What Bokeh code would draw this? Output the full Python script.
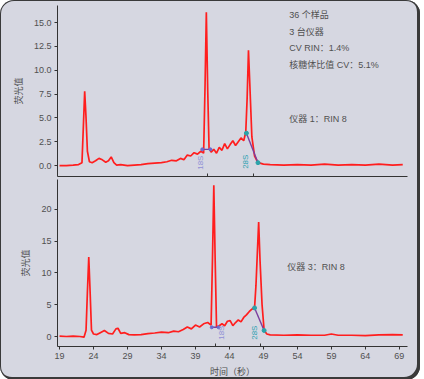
import math
from bokeh.plotting import figure
from bokeh.layouts import column
from bokeh.models import Range1d, FixedTicker, PrintfTickFormatter, Label
from bokeh.embed import file_html
from bokeh.resources import INLINE

# ---------------- data ----------------
# Instrument 1 electropherogram (time s, fluorescence)
t1 = [19.0, 20.0, 21.0, 21.8, 22.3, 22.5, 22.7, 22.9, 23.1, 23.4, 23.8, 24.3, 24.8, 25.3,
      25.8, 26.2, 26.6, 27.0, 27.4, 28.0, 29.0, 30.0, 31.0, 32.0, 33.0, 34.0, 34.8, 35.5,
      36.2, 36.8, 37.3, 37.8, 38.3, 38.8, 39.3, 39.8, 40.2, 40.4, 40.6, 40.8, 41.0, 41.3,
      41.7, 42.1, 42.5, 42.9, 43.3, 43.7, 44.1, 44.5, 44.9, 45.3, 45.7, 46.1, 46.4, 46.6,
      46.8, 47.0, 47.3, 47.7, 48.1, 48.5, 49.0, 50.0, 52.0, 54.0, 56.0, 58.0, 59.0, 60.0,
      62.0, 64.0, 66.0, 68.0, 69.5]
f1 = [0.0, 0.0, 0.05, 0.1, 0.3, 4.0, 7.8, 5.0, 1.5, 0.4, 0.3, 0.5, 0.75, 0.6,
      0.35, 0.5, 0.9, 0.3, 0.05, 0.1, 0.0, 0.05, 0.1, 0.2, 0.25, 0.3, 0.4, 0.55,
      0.5, 0.75, 0.6, 1.1, 1.0, 1.35, 1.2, 1.5, 1.3, 8.0, 16.1, 8.0, 1.8, 1.4,
      1.7, 1.3, 1.9, 1.6, 2.3, 1.75, 2.2, 2.6, 2.1, 2.5, 2.9, 2.6, 3.5, 7.0,
      12.1, 8.5, 3.0, 1.0, 0.45, 0.25, 0.15, 0.1, 0.05, 0.1, 0.05, 0.15, 0.1, 0.05,
      0.1, 0.05, 0.15, 0.05, 0.1]

# Instrument 3 electropherogram
t3 = [19.0, 20.0, 21.0, 22.0, 22.6, 22.9, 23.1, 23.3, 23.5, 23.7, 24.0, 24.5, 25.0, 25.6,
      26.2, 26.8, 27.3, 27.6, 28.0, 28.6, 29.2, 30.0, 31.0, 32.0, 33.0, 34.0, 35.0, 35.8,
      36.5, 37.2, 37.8, 38.4, 39.0, 39.6, 40.2, 40.8, 41.3, 41.5, 41.7, 41.9, 42.1, 42.5,
      42.9, 43.3, 43.7, 44.1, 44.5, 44.9, 45.3, 45.7, 46.1, 46.5, 46.9, 47.3, 47.7, 47.9,
      48.1, 48.3, 48.5, 48.8, 49.1, 49.5, 50.0, 52.0, 54.0, 56.0, 58.0, 59.0, 60.0, 62.0,
      64.0, 66.0, 68.0, 69.5]
f3 = [0.05, 0.0, 0.05, 0.0, -0.1, 1.0, 7.0, 12.5, 7.0, 1.0, 0.4, 0.3, 0.6, 0.95,
      0.5, 0.4, 1.2, 1.3, 0.5, 0.6, 0.3, 0.25, 0.3, 0.45, 0.55, 0.7, 0.6, 0.85,
      0.75, 1.1, 1.5, 1.2, 1.8, 1.5, 2.0, 2.2, 1.8, 12.0, 23.8, 12.0, 1.5, 1.7,
      2.0, 1.7, 2.4, 2.5, 1.7, 2.2, 2.6, 2.3, 3.0, 3.4, 3.9, 4.3, 4.6, 8.0,
      13.0, 18.0, 12.0, 5.0, 1.0, 0.4, 0.25, 0.2, 0.25, 0.2, 0.2, 0.4, 0.2, 0.2,
      0.15, 0.25, 0.3, 0.25]

# peak baselines (18S, 28S)
b1_18_t = [40.0, 41.2]
b1_18_f = [1.7, 1.7]
b1_28_t = [46.5, 48.2]
b1_28_f = [3.4, 0.3]
b3_18_t = [41.4, 42.4]
b3_18_f = [1.45, 1.45]
b3_28_t = [47.7, 49.1]
b3_28_f = [4.5, 0.95]

# ribosomal peak marks on x axis
marks1 = [40.8, 47.5]
marks3 = [41.9, 48.5]

x_ticks = [19, 24, 29, 34, 39, 44, 49, 54, 59, 64, 69]
y_ticks1 = [0.0, 2.5, 5.0, 7.5, 10.0, 12.5, 15.0]
y_ticks3 = [0, 5, 10, 15, 20]

notes1 = ["36 个样品", "3 台仪器", "CV RIN：1.4%", "核糖体比值 CV：5.1%"]
inst1 = "仪器 1：RIN 8"
inst3 = "仪器 3：RIN 8"
ylab = "荧光值"
xlab = "时间（秒）"

# ---------------- style ----------------
BG = "#d6d7e1"
RED = "#ff1e1e"
PURPLE = "#7b3f9e"
TEAL = "#2aa3aa"
TXT = "#505050"
FONT = "Liberation Sans, Noto Sans CJK SC"
CJK = "Noto Sans CJK SC"

x_range = Range1d(18.7, 70.2)


def make_fig(frame_h, yr, top_b, bottom_b):
    p = figure(frame_width=350, frame_height=frame_h, x_range=x_range,
               y_range=Range1d(*yr), output_backend="svg", toolbar_location=None,
               min_border_left=57, min_border_right=13, min_border_top=top_b,
               min_border_bottom=bottom_b,
               background_fill_color=None, border_fill_color=None,
               outline_line_color=None)
    p.grid.visible = False
    for ax in (p.xaxis[0], p.yaxis[0]):
        ax.axis_line_color = "#333333"
        ax.axis_line_width = 1
        ax.major_tick_line_color = "#333333"
        ax.minor_tick_line_color = "#333333"
        ax.major_tick_out = 3
        ax.major_tick_in = 0
        ax.major_label_text_font = FONT
        ax.major_label_text_font_size = "9px"
        ax.major_label_text_color = TXT
        ax.axis_label_text_font = CJK
        ax.axis_label_text_font_size = "9px"
        ax.axis_label_text_font_style = "normal"
        ax.axis_label_text_color = TXT
    p.yaxis.axis_label = ylab
    p.yaxis.axis_label_standoff = 6
    p.yaxis.major_label_standoff = 3
    return p


# top panel
p1 = make_fig(171, (-1.15, 16.8), 5, 3)
p1.yaxis.ticker = FixedTicker(ticks=y_ticks1)
p1.yaxis.formatter = PrintfTickFormatter(format="%.1f")
p1.xaxis.ticker = FixedTicker(ticks=[], minor_ticks=marks1)
p1.xaxis.minor_tick_in = 3
p1.xaxis.minor_tick_out = 0
p1.xaxis.major_tick_out = 0
p1.xaxis.major_label_standoff = 0

p1.line(t1, f1, line_color=RED, line_width=1.7)
p1.line(b1_18_t, b1_18_f, line_color=PURPLE, line_width=1.4)
p1.line(b1_28_t, b1_28_f, line_color=PURPLE, line_width=1.4)
p1.scatter(b1_28_t, b1_28_f, size=4, color=TEAL)
p1.scatter(b1_18_t, b1_18_f, size=3, color="#6a6ad0")

p1.add_layout(Label(x=39.8, y=0.3, text="18S", angle=math.pi / 2, text_align="center",
                    text_baseline="middle", text_font=FONT, text_font_size="8px",
                    text_color="#8f8fd6"))
p1.add_layout(Label(x=46.4, y=0.4, text="28S", angle=math.pi / 2, text_align="center",
                    text_baseline="middle", text_font=FONT, text_font_size="8px",
                    text_color="#2aa0b0"))
for i, s in enumerate(notes1):
    p1.add_layout(Label(x=52.8, y=15.8 - 1.75 * i, text=s, text_align="left",
                        text_baseline="middle", text_font=FONT, text_font_size="9px",
                        text_color=TXT))
p1.add_layout(Label(x=52.8, y=4.9, text=inst1, text_align="left", text_baseline="middle",
                    text_font=FONT, text_font_size="9px", text_color=TXT))

# bottom panel
p3 = make_fig(167, (-1.57, 24.7), 0, 0)
p3.yaxis.ticker = FixedTicker(ticks=y_ticks3)
p3.yaxis.formatter = PrintfTickFormatter(format="%d")
p3.xaxis.ticker = FixedTicker(ticks=x_ticks, minor_ticks=marks3)
p3.xaxis.minor_tick_in = 3
p3.xaxis.minor_tick_out = 0
p3.xaxis.major_label_standoff = 3
p3.xaxis.axis_label = xlab
p3.xaxis.axis_label_standoff = 3

p3.line(t3, f3, line_color=RED, line_width=1.7)
p3.line(b3_18_t, b3_18_f, line_color=PURPLE, line_width=1.4)
p3.line(b3_28_t, b3_28_f, line_color=PURPLE, line_width=1.4)
p3.scatter(b3_28_t, b3_28_f, size=4, color=TEAL)
p3.scatter(b3_18_t, b3_18_f, size=3, color="#6a6ad0")

p3.add_layout(Label(x=42.8, y=0.6, text="18S", angle=math.pi / 2, text_align="center",
                    text_baseline="middle", text_font=FONT, text_font_size="8px",
                    text_color="#8f8fd6"))
p3.add_layout(Label(x=47.7, y=0.6, text="28S", angle=math.pi / 2, text_align="center",
                    text_baseline="middle", text_font=FONT, text_font_size="8px",
                    text_color="#2aa0b0"))
p3.add_layout(Label(x=52.5, y=10.9, text=inst3, text_align="left", text_baseline="middle",
                    text_font=FONT, text_font_size="9px", text_color=TXT))

layout = column(p1, p3, spacing=0,
                styles={"border-radius": "14px", "overflow": "hidden",
                        "background-color": BG,
                        "box-shadow": "inset 0 0 0 1px #3a3a3a, inset -2px -2px 0 1px #3a3a3a"})

open("out.html", "w").write(file_html(layout, INLINE))
